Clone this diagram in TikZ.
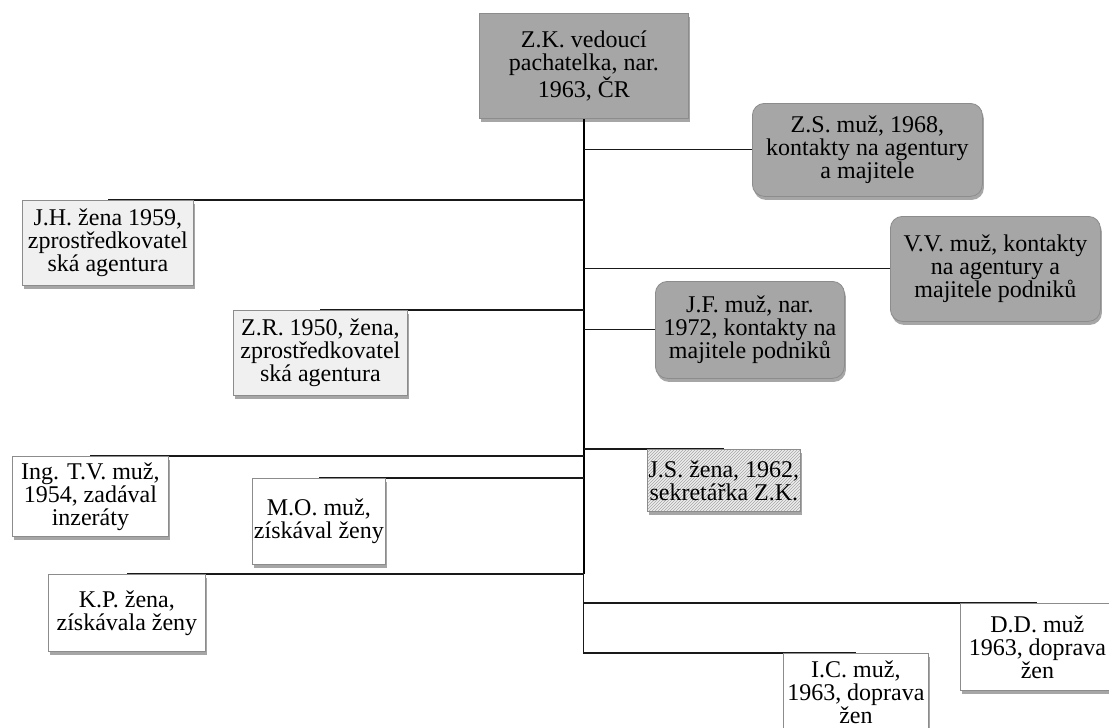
\documentclass[tikz,border=0pt]{standalone}
\usepackage{fontspec}
\setmainfont{Liberation Serif}
\usetikzlibrary{shadows,patterns,backgrounds,calc}
\begin{document}
\begin{tikzpicture}[x=1pt,y=-1pt,
  box/.style={draw=black!45, line width=0.8pt, anchor=north west, align=center,
    inner sep=1pt, font=\fontsize{24}{23}\selectfont,
    drop shadow={shadow xshift=1.5pt, shadow yshift=-3.5pt, opacity=0.35, fill=black}},
  darkbox/.style={box, fill=black!35},
  roundbox/.style={darkbox, rounded corners=12pt},
  lightbox/.style={box, fill=black!6},
  whitebox/.style={box, fill=white},
  hatchbox/.style={box, preaction={fill=black!7}, pattern=north east lines, pattern color=black!35},
  branch/.style={draw=black!90, line width=1.1pt},
  trunkline/.style={draw=black, line width=2.4pt}]
\useasboundingbox (0,0) rectangle (1109,728);

\node[darkbox, minimum width=209pt, minimum height=105pt] (zk) at (479,13) {Z.K. vedoucí\\pachatelka, nar.\\1963, ČR};
\node[roundbox, minimum width=230pt, minimum height=93pt] (zs) at (752,103) {Z.S. muž, 1968,\\kontakty na agentury\\a majitele};
\node[lightbox, minimum width=171pt, minimum height=85pt] (jh) at (22,200) {J.H. žena 1959,\\zprostředkovatel\\ská agentura};
\node[roundbox, minimum width=210pt, minimum height=105pt] (vv) at (890,216) {V.V. muž, kontakty\\na agentury a\\majitele podniků};
\node[roundbox, minimum width=189pt, minimum height=97pt] (jf) at (655,281) {J.F. muž, nar.\\1972, kontakty na\\majitele podniků};
\node[lightbox, minimum width=174pt, minimum height=85pt] (zr) at (233,310) {Z.R. 1950, žena,\\zprostředkovatel\\ská agentura};
\node[hatchbox, minimum width=153pt, minimum height=62pt] (js) at (647,449) {J.S. žena, 1962,\\sekretářka Z.K.};
\node[whitebox, minimum width=156pt, minimum height=80pt] (tv) at (12,456) {Ing. T.V. muž,\\1954, zadával\\inzeráty};
\node[whitebox, minimum width=133pt, minimum height=86pt] (mo) at (252,478) {M.O. muž,\\získával ženy};
\node[whitebox, minimum width=157pt, minimum height=77pt] (kp) at (48,574) {K.P. žena,\\získávala ženy};
\node[whitebox, minimum width=154pt, minimum height=87pt] (dd) at (960,603) {D.D. muž\\1963, doprava\\žen};
\node[whitebox, minimum width=145pt, minimum height=78pt] (ic) at (783,653) {I.C. muž,\\1963, doprava\\žen};

\begin{scope}[on background layer]
  \draw[trunkline] (zk.south) -- (kp.north -| zk.south);
  \draw[branch] (kp.north -| zk.south) -- (ic.north -| zk.south) -- (ic.north);
  \draw[branch] (zs.west -| zk.south) -- (zs.west);
  \draw[branch] (jh.north -| zk.south) -- (jh.north);
  \draw[branch] (vv.west -| zk.south) -- (vv.west);
  \draw[branch] (zr.north -| zk.south) -- (zr.north);
  \draw[branch] (jf.west -| zk.south) -- (jf.west);
  \draw[branch] (js.north -| zk.south) -- (js.north);
  \draw[branch] (tv.north -| zk.south) -- (tv.north);
  \draw[branch] (mo.north -| zk.south) -- (mo.north);
  \draw[branch] (kp.north -| zk.south) -- (kp.north);
  \draw[branch] (dd.north -| zk.south) -- (dd.north);
\end{scope}
\end{tikzpicture}
\end{document}
